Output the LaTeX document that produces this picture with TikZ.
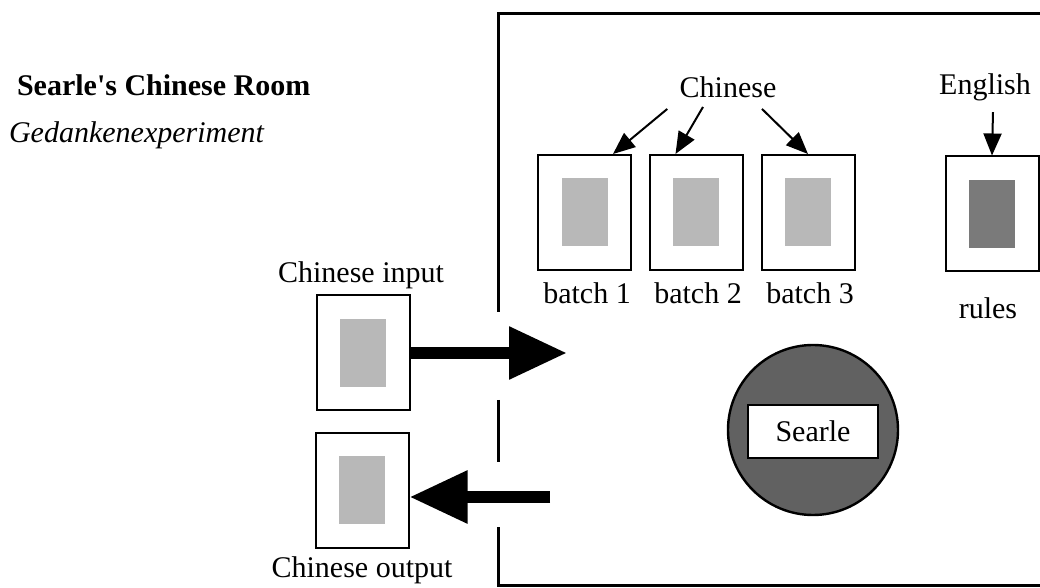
\documentclass[tikz,border=0pt]{standalone}
\usepackage{fontspec}
\setmainfont{Liberation Serif}
\usetikzlibrary{arrows.meta}
\definecolor{sheetgray}{gray}{0.72}
\definecolor{rulegray}{gray}{0.48}
\definecolor{searlegray}{gray}{0.38}
\begin{document}
\begin{tikzpicture}[x=0.5pt, y=-0.5pt, font=\fontsize{15}{18}\selectfont,
  thin arrow/.style={line width=1pt, -{Triangle[length=11pt, width=9pt]}},
  fat arrow/.style={line width=6pt, -{Triangle[length=29pt, width=25pt]}},
  wall/.style={line width=1.5pt},
  paper/.style={draw, line width=1pt, minimum width=46.5pt, minimum height=57.5pt, inner sep=0pt,
    path picture={\fill[#1] ([shift={(-11.5pt,-17pt)}]path picture bounding box.center)
      rectangle ([shift={(11.5pt,17pt)}]path picture bounding box.center);}},
  paper/.default=sheetgray]
\useasboundingbox (0,0) rectangle (1040,588);

% title
\node[anchor=west, font=\fontsize{15}{18}\selectfont\bfseries] (title) at (10,85) {Searle\textquotesingle s Chinese Room};
\node[anchor=west, font=\fontsize{15}{18}\selectfont\itshape] (subtitle) at (2,135) {Gedankenexperiment};

% the room
\draw[wall] (1040,14) -- (498,14) -- (498,312);
\draw[wall] (498,400) -- (498,462);
\draw[wall] (498,527) -- (498,585) -- (1040,585);

% batches and rules
\node[paper] (b1) at (584.5,212.5) {};
\node[paper] (b2) at (696,212.5) {};
\node[paper] (b3) at (808,212.5) {};
\node[paper=rulegray] (rules) at (992,214) {};
\node (lb1) at (587,293) {batch 1};
\node (lb2) at (698,293) {batch 2};
\node (lb3) at (810,293) {batch 3};
\node (lrules) at (988,308) {rules};

\node[inner sep=1pt] (chin) at (728,87) {Chinese};
\node[inner sep=1pt] (eng) at (985,87) {English};
\draw[thin arrow] ([shift={(-10,9)}]chin.south west) -- ([shift={(-19,0)}]b1.north east);
\draw[thin arrow] ([shift={(-25,7)}]chin.south) -- ([shift={(27,0)}]b2.north west);
\draw[thin arrow] ([shift={(34,9)}]chin.south) -- (b3.north);
\draw[thin arrow] ([shift={(8,9)}]eng.south) -- (rules.north);

% Searle
\node[circle, draw, line width=1.2pt, fill=searlegray, minimum size=85pt] (man) at (813,430) {};
\node[draw, fill=white, line width=1pt, minimum width=65pt, minimum height=26.5pt] (searle) at (813,431.5) {Searle};

% input and output
\node[paper] (in) at (363,353) {};
\node[paper] (out) at (362,490.5) {};
\node (lin) at (361,275) {Chinese input};
\node (lout) at (362,570) {Chinese output};
\coordinate (intip) at (567,353);
\coordinate (outtail) at (550,497);
\draw[fat arrow] (in.east) -- (intip);
\draw[fat arrow] (outtail) -- (out.east |- outtail);
\end{tikzpicture}
\end{document}
